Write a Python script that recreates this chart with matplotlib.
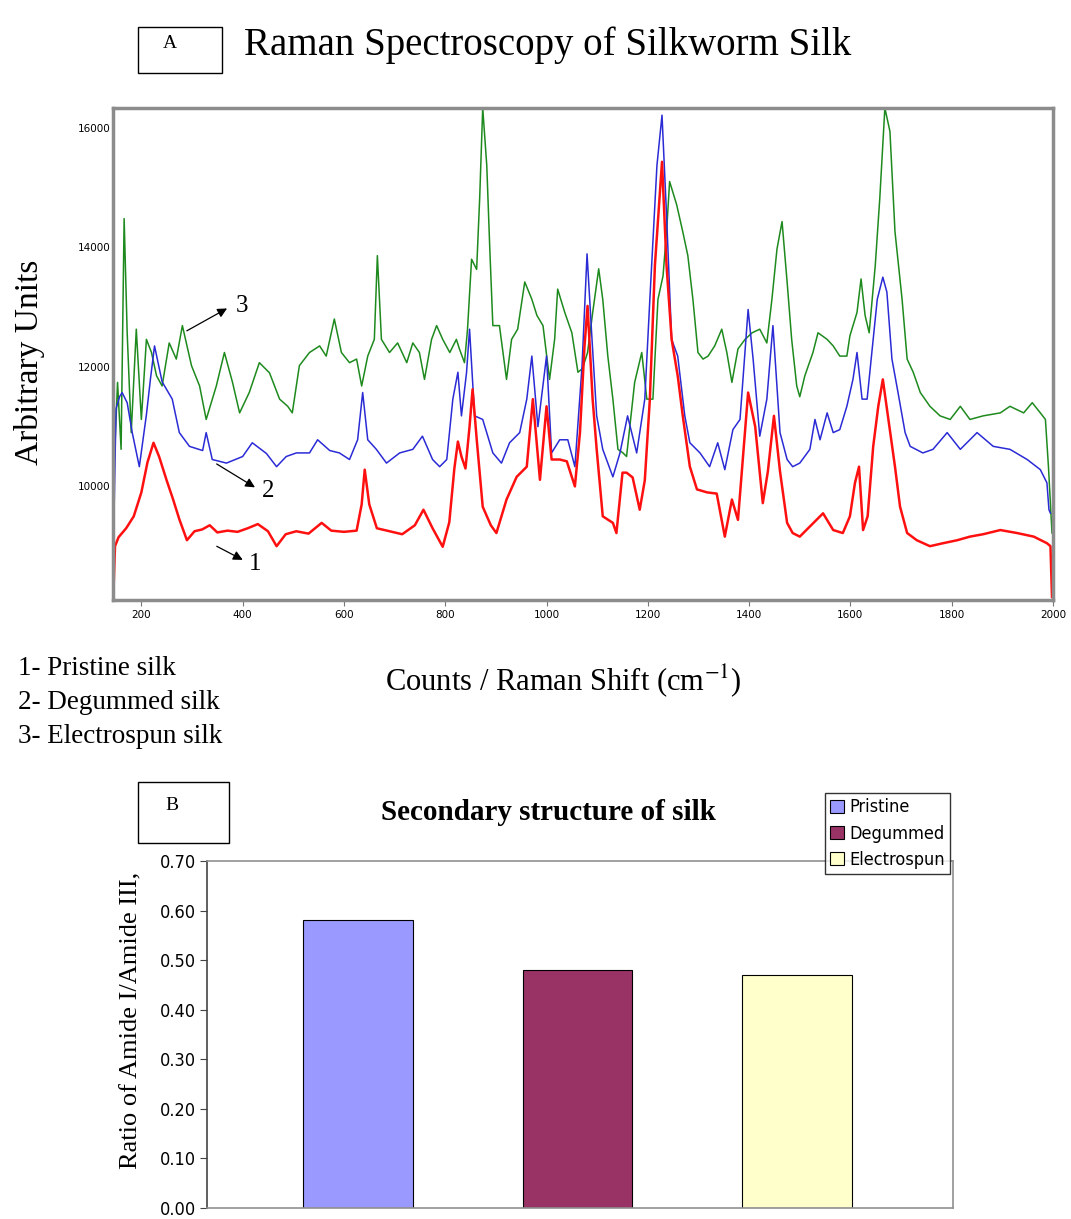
import matplotlib.pyplot as plt
from matplotlib.patches import Rectangle

plt.rcParams['mathtext.fontset'] = 'stix'

SERIF = ['Liberation Serif', 'DejaVu Serif']
NARROW = ['DejaVu Sans']

# ---- panel A: Raman spectra ----
pristine_x = [145, 148, 155, 170, 185, 200, 212, 224, 235, 250, 262, 275, 290, 305, 320,
              335, 350, 370, 390, 410, 430, 450, 467, 485, 506, 530, 556, 575, 600, 625,
              635, 641, 650, 665, 690, 715, 740, 757, 775, 795, 808, 818, 825, 832, 840,
              848, 854, 862, 874, 890, 901, 921, 941, 961, 973, 987, 1000, 1010, 1026, 1040,
              1056, 1066, 1075, 1081, 1091, 1099, 1111, 1131, 1138, 1150, 1158, 1170, 1184,
              1194, 1204, 1214, 1228, 1237, 1247, 1259, 1269, 1283, 1297, 1317, 1336, 1352,
              1366, 1378, 1398, 1412, 1427, 1437, 1449, 1461, 1475, 1486, 1500, 1520, 1546,
              1566, 1585, 1599, 1609, 1617, 1625, 1634, 1645, 1655, 1664, 1674, 1688, 1698,
              1712, 1731, 1757, 1783, 1811, 1836, 1862, 1896, 1929, 1962, 1988, 1995, 1998]
pristine_y = [8250, 9000, 9150, 9300, 9500, 9900, 10400, 10730, 10500, 10100, 9800, 9450,
              9100, 9250, 9280, 9350, 9230, 9260, 9240, 9300, 9370, 9250, 9000, 9200, 9250,
              9210, 9390, 9260, 9240, 9260, 9700, 10280, 9700, 9300, 9250, 9200, 9350, 9610,
              9300, 8990, 9400, 10300, 10750, 10500, 10300, 11000, 11625, 10800, 9660, 9350,
              9220, 9780, 10160, 10330, 11460, 10110, 11340, 10450, 10450, 10420, 10000,
              10900, 12350, 13020, 11460, 10620, 9500, 9390, 9220, 10230, 10230, 10150, 9610,
              10100, 11460, 13700, 15430, 13690, 12460, 11850, 11180, 10330, 9950, 9900, 9880,
              9160, 9780, 9440, 11570, 11000, 9720, 10250, 11180, 10250, 9390, 9220, 9160,
              9330, 9550, 9270, 9220, 9500, 10060, 10330, 9270, 9500, 10670, 11340, 11790,
              11180, 10330, 9660, 9220, 9100, 9000, 9050, 9100, 9160, 9200, 9270, 9220, 9160,
              9050, 9000, 8150]

degummed_x = [145, 150, 157, 162, 172, 182, 196, 210, 218, 226, 241, 261, 275, 295, 321,
              328, 340, 368, 400, 419, 447, 467, 486, 506, 532, 548, 572, 591, 611, 627,
              637, 647, 664, 684, 710, 736, 755, 775, 789, 803, 815, 825, 832, 842, 848,
              858, 874, 894, 911, 927, 947, 961, 971, 983, 1000, 1010, 1026, 1042, 1056,
              1070, 1080, 1089, 1099, 1111, 1131, 1145, 1160, 1178, 1194, 1204, 1218, 1228,
              1237, 1247, 1259, 1273, 1283, 1303, 1322, 1338, 1352, 1368, 1382, 1398, 1408,
              1421, 1435, 1447, 1461, 1475, 1486, 1500, 1520, 1530, 1540, 1554, 1566, 1579,
              1593, 1605, 1613, 1623, 1633, 1643, 1653, 1664, 1672, 1682, 1694, 1708, 1718,
              1743, 1763, 1791, 1817, 1850, 1882, 1915, 1949, 1975, 1988, 1992, 1995]
degummed_y = [9050, 11300, 11500, 11570, 11400, 10900, 10330, 11200, 11800, 12350, 11750,
              11460, 10900, 10670, 10600, 10900, 10450, 10390, 10500, 10730, 10550, 10330,
              10500, 10560, 10560, 10780, 10600, 10560, 10450, 10780, 11570, 10780, 10620,
              10390, 10560, 10620, 10840, 10450, 10330, 10450, 11460, 11910, 11180, 11900,
              12630, 11180, 11120, 10560, 10390, 10730, 10900, 11460, 12180, 11000, 12180,
              10560, 10780, 10780, 10330, 12000, 13890, 12570, 11180, 10620, 10160, 10560,
              11180, 10560, 11460, 13130, 15370, 16210, 14530, 12460, 12180, 11180, 10730,
              10560, 10330, 10730, 10280, 10950, 11120, 12960, 12120, 10840, 11460, 12690,
              10900, 10450, 10330, 10390, 10620, 11120, 10780, 11230, 10900, 10950, 11340,
              11790, 12240, 11460, 11460, 12300, 13130, 13500, 13250, 12130, 11570, 10900,
              10670, 10560, 10620, 10900, 10620, 10900, 10670, 10620, 10450, 10280, 10060,
              9610, 9550]

electrospun_x = [144, 147, 153, 160, 166, 172, 180, 190, 200, 210, 220, 230, 241, 255, 269,
                 281, 299, 315, 328, 348, 364, 380, 394, 413, 433, 453, 473, 489, 498, 512,
                 532, 552, 565, 581, 595, 611, 625, 635, 647, 660, 666, 674, 690, 706, 724,
                 736, 749, 759, 773, 783, 795, 809, 822, 828, 838, 844, 852, 862, 868, 874,
                 882, 888, 894, 907, 921, 931, 943, 957, 971, 981, 993, 1006, 1016, 1022,
                 1036, 1050, 1062, 1071, 1081, 1091, 1103, 1111, 1121, 1131, 1141, 1151, 1158,
                 1174, 1188, 1198, 1210, 1220, 1230, 1237, 1243, 1257, 1269, 1279, 1289, 1299,
                 1309, 1319, 1332, 1346, 1356, 1366, 1378, 1392, 1406, 1421, 1435, 1445, 1455,
                 1465, 1475, 1484, 1494, 1500, 1510, 1526, 1536, 1554, 1566, 1579, 1593, 1599,
                 1613, 1621, 1629, 1637, 1649, 1658, 1668, 1678, 1688, 1702, 1712, 1724, 1738,
                 1757, 1777, 1797, 1817, 1836, 1862, 1896, 1915, 1942, 1959, 1975, 1985, 1991,
                 1998]
electrospun_y = [9100, 10500, 11740, 10620, 14480, 12570, 10900, 12630, 11120, 12460, 12240,
                 11850, 11680, 12400, 12130, 12690, 12020, 11680, 11120, 11680, 12240, 11740,
                 11230, 11570, 12070, 11900, 11460, 11340, 11230, 12020, 12240, 12350, 12180,
                 12800, 12240, 12070, 12130, 11680, 12180, 12460, 13860, 12460, 12240, 12400,
                 12070, 12400, 12240, 11790, 12460, 12690, 12460, 12240, 12460, 12300, 12070,
                 12630, 13800, 13630, 14820, 16330, 15370, 13970, 12690, 12690, 11790, 12460,
                 12630, 13420, 13130, 12860, 12690, 11790, 12460, 13300, 12910, 12570, 11910,
                 11970, 12240, 12900, 13640, 13130, 12180, 11460, 10620, 10560, 10500, 11740,
                 12240, 11460, 11460, 13130, 13520, 14260, 15100, 14710, 14260, 13860, 13130,
                 12240, 12130, 12180, 12350, 12630, 12240, 11740, 12300, 12460, 12570, 12630,
                 12400, 13130, 13970, 14430, 13420, 12460, 11680, 11500, 11850, 12240, 12570,
                 12460, 12350, 12180, 12180, 12520, 12910, 13470, 12860, 12570, 13690, 14820,
                 16330, 15940, 14260, 13130, 12130, 11910, 11570, 11340, 11180, 11120, 11340,
                 11120, 11180, 11230, 11340, 11230, 11400, 11230, 11120, 10330, 9220]

x_ticks = [200, 400, 600, 800, 1000, 1200, 1400, 1600, 1800, 2000]
y_ticks = [10000, 12000, 14000, 16000]
key_lines = ['1- Pristine silk', '2- Degummed silk', '3- Electrospun silk']

# ---- panel B: amide ratio bars ----
samples = ['Pristine', 'Degummed', 'Electrospun']
ratios = [0.58, 0.48, 0.47]
bar_colors = ['#9999ff', '#993366', '#ffffcc']
ratio_ticks = [0.0, 0.1, 0.2, 0.3, 0.4, 0.5, 0.6, 0.7]

fig = plt.figure(figsize=(10.71, 12.19), dpi=100)

# spectra panel
ax = fig.add_axes([0.1055, 0.5078, 0.8777, 0.4036])
ax.plot(electrospun_x, electrospun_y, color='#1e8a1e', lw=1.1)
ax.plot(degummed_x, degummed_y, color='#2b2bd6', lw=1.1)
ax.plot(pristine_x, pristine_y, color='#ff1010', lw=1.8)
ax.set_xlim(144, 2000)
ax.set_ylim(8100, 16330)
ax.set_xticks(x_ticks)
ax.set_yticks(y_ticks)
ax.tick_params(axis='both', labelsize=7.5, color='#777777', length=4)
ax.tick_params(axis='y', length=0, pad=2)
for s in ax.spines.values():
    s.set_color('#8c8c8c')
    s.set_linewidth(2.5)

# numbered arrows pointing at the curve labels
arrow = dict(arrowstyle='-|>', color='black', lw=0.9, mutation_scale=14)
ax.annotate('', xy=(374, 13000), xytext=(285, 12580), arrowprops=arrow)
ax.text(386, 13020, '3', family=SERIF, fontsize=18, va='center', ha='left')
ax.annotate('', xy=(429, 9960), xytext=(344, 10400), arrowprops=arrow)
ax.text(437, 9930, '2', family=SERIF, fontsize=18, va='center', ha='left')
ax.annotate('', xy=(405, 8750), xytext=(344, 9020), arrowprops=arrow)
ax.text(412, 8700, '1', family=SERIF, fontsize=18, va='center', ha='left')

fig.text(0.028, 0.703, 'Arbitrary Units', family=SERIF, fontsize=24,
         rotation=90, ha='center', va='center')
fig.text(0.526, 0.442, 'Counts / Raman Shift (cm$^{-1}$)', family=SERIF,
         fontsize=22, ha='center', va='center')
for i, line in enumerate(key_lines):
    fig.text(0.017, 0.452 - i * 0.0279, line, family=SERIF, fontsize=19.5,
             ha='left', va='center')

fig.add_artist(Rectangle((138 / 1071, 1 - 73 / 1219), 84 / 1071, 46 / 1219,
                         transform=fig.transFigure, fill=False, ec='black', lw=1))
fig.text(170 / 1071, 1 - 44 / 1219, 'A', family=SERIF, fontsize=14, ha='center', va='center')
fig.text(0.511, 1 - 45 / 1219, 'Raman Spectroscopy of Silkworm Silk', family=SERIF,
         fontsize=28, ha='center', va='center')

# bar panel
bx = fig.add_axes([207 / 1071, 1 - 1208 / 1219, 746 / 1071, 347 / 1219])
pos = list(range(len(samples)))
bars = bx.bar(pos, ratios, width=0.5, color=bar_colors, edgecolor='black', lw=0.8)
bx.set_xlim(-0.688, 2.711)
bx.set_ylim(0, 0.7)
bx.set_yticks(ratio_ticks)
bx.set_yticklabels([f'{t:.2f}' for t in ratio_ticks], family=NARROW,
                   fontstretch='condensed', fontsize=13)
bx.set_xticks([])
bx.tick_params(axis='y', length=5, color='#444444', pad=3)
for name, s in bx.spines.items():
    s.set_color('#909090')
    s.set_linewidth(1.2)
bx.spines['left'].set_color('#444444')
bx.set_ylabel('Ratio of Amide I/Amide III,', family=SERIF, fontsize=19)
bx.yaxis.set_label_coords(-0.087, 0.54)

fig.legend(bars, samples, loc='upper left', bbox_to_anchor=(825 / 1071, 1 - 793 / 1219),
           prop={'family': NARROW, 'stretch': 'condensed', 'size': 13}, frameon=True,
           fancybox=False, edgecolor='black', handlelength=0.75, handleheight=0.75,
           handletextpad=0.3, borderpad=0.3, labelspacing=0.45, borderaxespad=0)

fig.add_artist(Rectangle((138 / 1071, 1 - 843 / 1219), 91 / 1071, 61 / 1219,
                         transform=fig.transFigure, fill=False, ec='black', lw=1))
fig.text(172 / 1071, 1 - 806 / 1219, 'B', family=SERIF, fontsize=14, ha='center', va='center')
fig.text(548 / 1071, 1 - 812 / 1219, 'Secondary structure of silk', family=SERIF,
         fontsize=21, fontweight='bold', ha='center', va='center')

fig.savefig('out.png', dpi=100)
